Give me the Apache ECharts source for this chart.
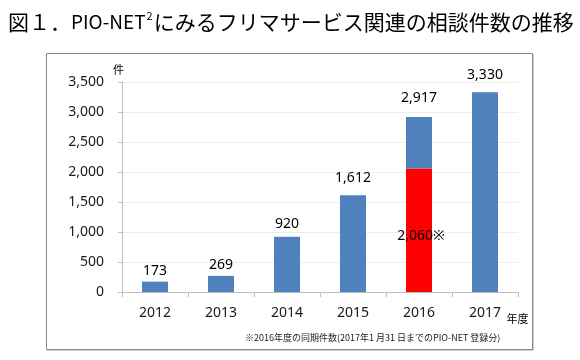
<!DOCTYPE html>
<html>
<head>
<meta charset="utf-8">
<script src="https://cdn.jsdelivr.net/npm/echarts@6/dist/echarts.min.js"></script>
<style>
html,body{margin:0;padding:0;background:#fff;}
#chart{width:580px;height:360px;}
</style>
</head>
<body>
<div id="chart"></div>
<script>
// ---- data ----
const categories = ['2012', '2013', '2014', '2015', '2016', '2017'];
const totals = [173, 269, 920, 1612, 2917, 3330];
const samePeriod2016 = 2060;          // 2016年度の同期件数
const samePeriodIndex = 4;            // index of 2016
const yTickValues = [0, 500, 1000, 1500, 2000, 2500, 3000, 3500];

// ---- styles (not data) ----
const labelGaps = [3.5, 4, 6, 10.5, 12, 10.5];
const BLUE = '#4F81BD';
const RED = '#FF0000';
const LATIN = '"Noto Sans", "Noto Sans CJK JP", sans-serif';
const CJK = '"Noto Sans CJK JP", sans-serif';

const fmt = v => v.toLocaleString('en-US');

const baseData = categories.map((c, i) => {
  if (i === samePeriodIndex) {
    return {
      value: samePeriod2016,
      itemStyle: { color: RED },
      label: {
        show: true,
        position: 'inside',
        offset: [2, 6],
        formatter: fmt(samePeriod2016) + '※'
      }
    };
  }
  return {
    value: totals[i],
    label: { show: true, position: 'top', distance: labelGaps[i], formatter: fmt(totals[i]) }
  };
});

const restData = categories.map((c, i) => {
  if (i === samePeriodIndex) {
    return {
      value: totals[i] - samePeriod2016,
      label: { show: true, position: 'top', distance: labelGaps[i], formatter: fmt(totals[i]) }
    };
  }
  return '-';
});

const chart = echarts.init(document.getElementById('chart'));
chart.setOption({
  animation: false,
  backgroundColor: '#fff',
  grid: { left: 122, right: 62, top: 82, bottom: 68, containLabel: false },
  xAxis: {
    type: 'category',
    data: categories,
    axisLine: { lineStyle: { color: '#bfbfbf', width: 1 } },
    axisTick: { show: true, length: 5, lineStyle: { color: '#bfbfbf' } },
    axisLabel: { color: '#1a1a1a', fontSize: 14, fontFamily: LATIN, margin: 14 }
  },
  yAxis: {
    type: 'value',
    min: yTickValues[0],
    max: yTickValues[yTickValues.length - 1],
    interval: yTickValues[1] - yTickValues[0],
    axisLine: { show: true, lineStyle: { color: '#bfbfbf', width: 1 } },
    axisTick: { show: true, length: 4, lineStyle: { color: '#bfbfbf' } },
    splitLine: { lineStyle: { color: '#ededed', width: 1 } },
    axisLabel: { color: '#1a1a1a', fontSize: 14, fontFamily: LATIN, margin: 18,
      formatter: v => fmt(v) }
  },
  series: [
    {
      type: 'bar',
      stack: 'total',
      barWidth: 26,
      itemStyle: { color: BLUE },
      label: { color: '#000', fontSize: 14, fontFamily: LATIN },
      data: baseData
    },
    {
      type: 'bar',
      stack: 'total',
      barWidth: 26,
      itemStyle: { color: BLUE },
      label: { color: '#000', fontSize: 14, fontFamily: LATIN },
      data: restData
    }
  ],
  graphic: [
    {
      type: 'rect',
      shape: { x: 46.5, y: 53.5, width: 486, height: 296 },
      style: { fill: 'none', stroke: '#8a8a8a', lineWidth: 1 },
      z: 0
    },
    {
      type: 'polyline',
      shape: { points: [[533.5, 54], [533.5, 350.5], [47, 350.5]] },
      style: { fill: 'none', stroke: '#d0d0d0', lineWidth: 1 },
      z: 0
    },
    {
      type: 'text',
      left: 8,
      top: 10,
      style: {
        text: '{a|図１．}{b|PIO-NET}{s|2}{a|にみるフリマサービス関連の相談件数の推移}',
        rich: {
          a: { fontSize: 21, fontFamily: CJK, fill: '#000', lineHeight: 24 },
          b: { fontSize: 19, fontFamily: CJK, fill: '#000', lineHeight: 24 },
          s: { fontSize: 11, fontFamily: CJK, fill: '#000', lineHeight: 24, verticalAlign: 'top', padding: [0, 1, 8, 1] }
        }
      }
    },
    {
      type: 'text',
      x: 118.5, y: 69.5,
      style: { text: '件', fontSize: 11, fontFamily: CJK, fill: '#000', align: 'center', verticalAlign: 'middle' }
    },
    {
      type: 'text',
      x: 517.5, y: 318.5,
      style: { text: '年度', fontSize: 11, fontFamily: CJK, fill: '#000', align: 'center', verticalAlign: 'middle' }
    },
    {
      type: 'text',
      x: 245, y: 337.5,
      style: { text: '※2016年度の同期件数(2017年1 月31 日までのPIO-NET 登録分)', fontSize: 9, fontFamily: CJK, fill: '#222', align: 'left', verticalAlign: 'middle' }
    }
  ]
});
</script>
</body>
</html>
